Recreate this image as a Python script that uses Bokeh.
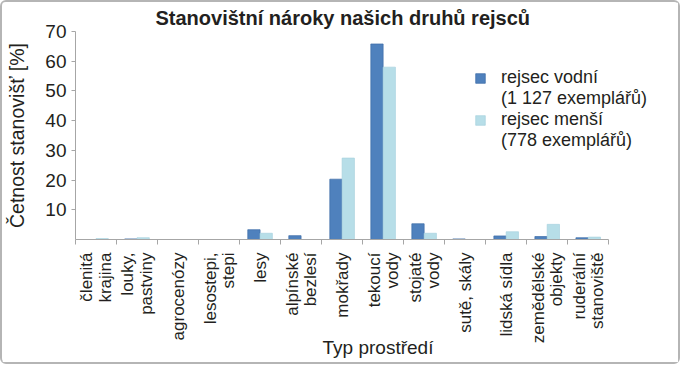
import math
from bokeh.plotting import figure
from bokeh.models import (ColumnDataSource, FixedTicker, Legend, LegendItem,
                          Range1d)
from bokeh.embed import file_html
from bokeh.resources import INLINE

categories = ["členitá\nkrajina", "louky,\npastviny", "agrocenózy",
              "lesostepi,\nstepi", "lesy", "alpínské\nbezlesí", "mokřady",
              "tekoucí\nvody", "stojaté\nvody", "sutě, skály", "lidská sídla",
              "zemědělské\nobjekty", "ruderální\nstanoviště"]
vodni = [0.0, 0.2, 0.0, 0.0, 3.3, 1.3, 20.3, 65.8, 5.3, 0.2, 1.2, 1.0, 0.6]
mensi = [0.3, 0.6, 0.0, 0.0, 2.1, 0.0, 27.4, 58.0, 2.1, 0.0, 2.6, 5.1, 0.8]
legend_lines = [["rejsec vodní", "(1 127 exemplářů)"],
                ["rejsec menší", "(778 exemplářů)"]]
y_ticks = [10, 20, 30, 40, 50, 60, 70]

FONT = "Liberation Sans"
TXT = "#231f20"
AX = "#a6a6a6"
C1 = "#4f81bd"
C2 = "#b7dee8"

n = len(categories)
pos = list(range(1, n + 1))
bw = 0.3
src = ColumnDataSource(dict(
    x1=[p_ - bw / 2 for p_ in pos], x2=[p_ + bw / 2 for p_ in pos],
    vodni=vodni, mensi=mensi))

p = figure(width=680, height=364, output_backend="svg", toolbar_location=None,
           x_range=Range1d(0.5, n + 2.25), y_range=Range1d(0, 70),
           min_border_left=73, min_border_right=2, min_border_bottom=127,
           min_border_top=0, background_fill_color="white",
           border_fill_color="white",
           styles={"border": "2px solid #b5b5b5", "border-radius": "6px"})
p.outline_line_color = None
p.grid.visible = False

r1 = p.vbar(x="x1", top="vodni", width=bw, source=src, fill_color=C1,
            line_color="#3d6da8", line_width=0.7)
r2 = p.vbar(x="x2", top="mensi", width=bw, source=src, fill_color=C2,
            line_color="#a9d3df", line_width=0.7)
# invisible twins, used only for the second line of each legend entry
r1b = p.vbar(x="x1", top="vodni", width=bw, source=src, fill_alpha=0, line_alpha=0)
r2b = p.vbar(x="x2", top="mensi", width=bw, source=src, fill_alpha=0, line_alpha=0)

p.title.text = "Stanovištní nároky našich druhů rejsců"
p.title.align = "left"
p.title.offset = 80
p.title.text_font = FONT
p.title.text_font_size = "20px"
p.title.text_font_style = "bold"
p.title.text_color = TXT
p.title.standoff = 5

xa = p.xaxis[0]
xa.bounds = (0.5, n + 0.5)
xa.ticker = FixedTicker(ticks=pos, minor_ticks=[k + 0.5 for k in range(0, n + 1)])
xa.major_label_overrides = {k: c for k, c in zip(pos, categories)}
xa.major_label_orientation = math.pi / 2
xa.major_tick_line_color = None
xa.major_tick_in = 0
xa.major_tick_out = 0
xa.minor_tick_in = 0
xa.minor_tick_out = 5
xa.minor_tick_line_color = AX
xa.axis_line_color = AX
xa.major_label_text_font = FONT
xa.major_label_text_font_size = "17px"
xa.major_label_text_color = TXT
xa.major_label_text_line_height = 0.95
xa.major_label_standoff = 8
xa.axis_label = "Typ prostředí"
xa.axis_label_text_font = FONT
xa.axis_label_text_font_size = "19px"
xa.axis_label_text_font_style = "normal"
xa.axis_label_text_color = TXT
xa.axis_label_standoff = -9

ya = p.yaxis[0]
ya.ticker = FixedTicker(ticks=y_ticks)
ya.major_tick_in = 0
ya.major_tick_out = 4
ya.major_tick_line_color = AX
ya.minor_tick_line_color = None
ya.axis_line_color = AX
ya.major_label_text_font = FONT
ya.major_label_text_font_size = "19px"
ya.major_label_text_color = TXT
ya.major_label_standoff = 5
ya.axis_label = "Četnost stanovišť [%]"
ya.axis_label_text_font = FONT
ya.axis_label_text_font_size = "19.5px"
ya.axis_label_text_font_style = "normal"
ya.axis_label_text_color = TXT
ya.axis_label_standoff = 14

legend = Legend(items=[LegendItem(label=legend_lines[0][0], renderers=[r1]),
                       LegendItem(label=legend_lines[0][1], renderers=[r1b]),
                       LegendItem(label=legend_lines[1][0], renderers=[r2]),
                       LegendItem(label=legend_lines[1][1], renderers=[r2b])],
                location=(399, 88), background_fill_alpha=0,
                border_line_color=None, glyph_width=12, glyph_height=12,
                label_standoff=15, spacing=0, padding=0, margin=0,
                label_height=20,
                label_text_font=FONT, label_text_font_size="18px",
                label_text_color=TXT)
p.add_layout(legend, "center")

open("out.html", "w").write(file_html(p, INLINE))
